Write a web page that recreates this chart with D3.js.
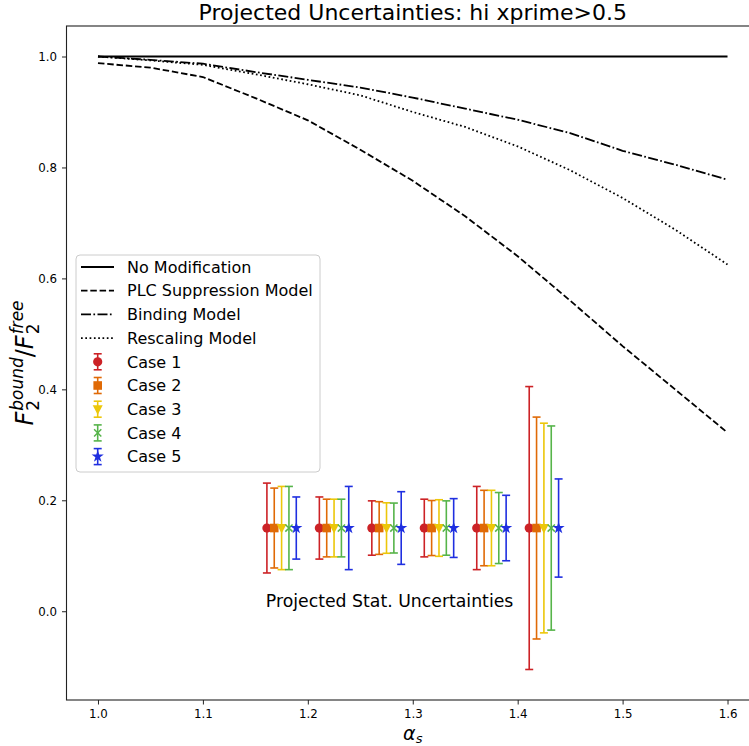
<!DOCTYPE html>
<html>
<head>
<meta charset="utf-8">
<script src="https://cdn.jsdelivr.net/npm/d3@7"></script>
<style>
  body { margin: 0; background: #fff; }
  text { font-family: "DejaVu Sans", sans-serif; fill: #000; }
</style>
</head>
<body>
<svg id="chart" width="749" height="746"></svg>
<script>
// Model curves vs alpha_s
const alphaS = [1.0, 1.05, 1.1, 1.15, 1.2, 1.25, 1.3, 1.35, 1.4, 1.45, 1.5, 1.55, 1.6];
const noModification = [1, 1, 1, 1, 1, 1, 1, 1, 1, 1, 1, 1, 1];
const plcSuppression = [0.988, 0.980, 0.963, 0.925, 0.885, 0.832, 0.776, 0.712, 0.640, 0.560, 0.478, 0.400, 0.322];
const bindingModel = [1.0, 0.994, 0.987, 0.972, 0.958, 0.944, 0.926, 0.906, 0.886, 0.862, 0.830, 0.805, 0.778];
const rescalingModel = [1.0, 0.993, 0.985, 0.968, 0.950, 0.930, 0.900, 0.873, 0.838, 0.795, 0.745, 0.688, 0.625];

const curveNames = ["No Modification", "PLC Suppression Model", "Binding Model", "Rescaling Model"];

// Projected statistical uncertainties, five cases per alpha_s bin
const binCenters = [1.175, 1.225, 1.275, 1.325, 1.375, 1.425];
const caseOffsets = [-0.014, -0.007, 0.0, 0.007, 0.014];
const centralValue = 0.15;
const case1Err = [0.081, 0.056, 0.049, 0.052, 0.075, 0.255];
const case2Err = [0.072, 0.052, 0.0475, 0.0496, 0.068, 0.200];
const case3Err = [0.075, 0.052, 0.0455, 0.051, 0.068, 0.189];
const case4Err = [0.075, 0.052, 0.045, 0.049, 0.064, 0.184];
const case5Err = [0.056, 0.075, 0.0655, 0.053, 0.059, 0.0885];
const caseNames = ["Case 1", "Case 2", "Case 3", "Case 4", "Case 5"];

const xTicks = [1.0, 1.1, 1.2, 1.3, 1.4, 1.5, 1.6];
const yTicks = [0.0, 0.2, 0.4, 0.6, 0.8, 1.0];

const titleText = "Projected Uncertainties: hi xprime>0.5";
const noteText = "Projected Stat. Uncertainties";

// ---- styling ----
const caseColors = ["#cc2226", "#e06a06", "#ecc70a", "#56b44a", "#1f2fe0"];
const caseMarkers = ["circle", "square", "triDown", "x", "star"];
const curveDash = [null, "6.5,2.8", "10,2.4,1.7,2.4", "1.7,2.6"];

const svg = d3.select("#chart");
const margin = { left: 66.5, right: 759, top: 26, bottom: 700 };

const x = d3.scaleLinear().domain([0.97, 1.63]).range([margin.left, margin.right]);
const y = d3.scaleLinear().domain([-0.16, 1.055]).range([margin.bottom, margin.top]);

// ---- axes ----
const xAxis = d3.axisBottom(x).tickValues(xTicks).tickFormat(d3.format(".1f")).tickSizeOuter(0).tickSize(4.5).tickPadding(5);
const yAxis = d3.axisLeft(y).tickValues(yTicks).tickFormat(d3.format(".1f")).tickSizeOuter(0).tickSize(4.5).tickPadding(5);

const gx = svg.append("g").attr("transform", `translate(0,${margin.bottom})`).call(xAxis);
const gy = svg.append("g").attr("transform", `translate(${margin.left},0)`).call(yAxis);
[gx, gy].forEach(g => {
  g.select(".domain").remove();
  g.selectAll(".tick line").attr("stroke", "#222").attr("stroke-width", 1);
  g.selectAll(".tick text").attr("font-size", 11.8).attr("font-family", "DejaVu Sans").attr("fill", "#222");
});

// spines
const spine = svg.append("g").attr("fill", "none").attr("stroke", "#222").attr("stroke-width", 1.1);
spine.append("rect")
  .attr("x", margin.left).attr("y", margin.top)
  .attr("width", margin.right - margin.left).attr("height", margin.bottom - margin.top);

// ---- model curves ----
const line = d3.line().x(d => x(d[0])).y(d => y(d[1]));
const curves = [noModification, plcSuppression, bindingModel, rescalingModel];
curves.forEach((vals, i) => {
  svg.append("path")
    .datum(alphaS.map((a, j) => [a, vals[j]]))
    .attr("d", line)
    .attr("fill", "none")
    .attr("stroke", "#000")
    .attr("stroke-width", 1.8)
    .attr("stroke-dasharray", curveDash[i]);
});

// ---- markers ----
function drawMarker(g, kind, cx, cy, color) {
  if (kind === "circle") {
    g.append("circle").attr("cx", cx).attr("cy", cy).attr("r", 4.6).attr("fill", color);
  } else if (kind === "square") {
    g.append("rect").attr("x", cx - 4.3).attr("y", cy - 4.3).attr("width", 8.6).attr("height", 8.6).attr("fill", color);
  } else if (kind === "triDown") {
    g.append("path").attr("d", `M${cx - 5},${cy - 4} L${cx + 5},${cy - 4} L${cx},${cy + 5.5} Z`).attr("fill", color);
  } else if (kind === "x") {
    g.append("path").attr("d", `M${cx - 3.6},${cy - 3.6} L${cx + 3.6},${cy + 3.6} M${cx - 3.6},${cy + 3.6} L${cx + 3.6},${cy - 3.6}`)
      .attr("stroke", color).attr("stroke-width", 1.5).attr("fill", "none");
  } else if (kind === "star") {
    g.append("path").attr("d", d3.symbol(d3.symbolStar, 46)()).attr("transform", `translate(${cx},${cy})`).attr("fill", color);
  }
}

function drawErrorBar(g, cx, yLo, yHi, cy, color, kind) {
  g.append("line").attr("x1", cx).attr("x2", cx).attr("y1", yLo).attr("y2", yHi)
    .attr("stroke", color).attr("stroke-width", 1.6);
  [yLo, yHi].forEach(yy => {
    g.append("line").attr("x1", cx - 4).attr("x2", cx + 4).attr("y1", yy).attr("y2", yy)
      .attr("stroke", color).attr("stroke-width", 1.6);
  });
  drawMarker(g, kind, cx, cy, color);
}

// ---- error bars ----
const caseErrs = [case1Err, case2Err, case3Err, case4Err, case5Err];
caseErrs.forEach((errs, c) => {
  const g = svg.append("g");
  binCenters.forEach((b, k) => {
    const xv = b + caseOffsets[c];
    drawErrorBar(g, x(xv), y(centralValue - errs[k]), y(centralValue + errs[k]), y(centralValue), caseColors[c], caseMarkers[c]);
  });
});

// ---- annotation ----
svg.append("text").attr("x", x(1.16)).attr("y", y(0.007))
  .attr("font-size", 17.3).text(noteText);

// ---- title ----
svg.append("text").attr("x", (margin.left + margin.right) / 2).attr("y", 20)
  .attr("text-anchor", "middle").attr("font-size", 22).text(titleText);

// ---- x label: alpha_s ----
const xl = svg.append("text").attr("x", (margin.left + margin.right) / 2).attr("y", 740)
  .attr("text-anchor", "middle");
xl.append("tspan").attr("font-size", 19).attr("font-style", "italic").text("α");
xl.append("tspan").attr("font-size", 13).attr("font-style", "italic").attr("dy", 3).text("s");

// ---- y label: F_2^bound / F_2^free ----
const yl = svg.append("g");
const main = 24, scr = 17;
let cursor = 0;
function piece(txt, size, italic, dy) {
  const t = yl.append("text").attr("x", cursor).attr("y", dy).attr("font-size", size)
    .attr("font-style", italic ? "italic" : "normal").text(txt);
  return t.node().getComputedTextLength();
}
function scripted(sup, sub) {
  const start = cursor;
  const w1 = piece(sup, scr, true, -10);
  cursor = start;
  const w2 = piece(sub, scr, false, 6);
  cursor = start + Math.max(w1, w2);
}
cursor += piece("F", main, true, 0) + 1;
scripted("bound", "2");
cursor += piece("/", main, false, 0);
cursor += piece("F", main, true, 0) + 1;
scripted("free", "2");
const totalW = cursor;
yl.attr("transform", `translate(33,${(margin.top + margin.bottom) / 2}) rotate(-90) translate(${-totalW / 2},0)`);

// ---- legend ----
const leg = svg.append("g");
leg.append("rect").attr("x", 76).attr("y", 255).attr("width", 244).attr("height", 217)
  .attr("rx", 4).attr("fill", "#fff").attr("fill-opacity", 0.8)
  .attr("stroke", "#cccccc").attr("stroke-width", 1);
const rowY = d3.range(9).map(i => 267 + i * 23.7);
curveNames.forEach((name, i) => {
  leg.append("line").attr("x1", 81).attr("x2", 114).attr("y1", rowY[i]).attr("y2", rowY[i])
    .attr("stroke", "#000").attr("stroke-width", 1.8).attr("stroke-dasharray", curveDash[i]);
  leg.append("text").attr("x", 127).attr("y", rowY[i]).attr("dy", "0.36em").attr("font-size", 16).text(name);
});
caseNames.forEach((name, c) => {
  const yy = rowY[4 + c];
  drawErrorBar(leg, 97.7, yy + 8, yy - 8, yy, caseColors[c], caseMarkers[c]);
  leg.append("text").attr("x", 127).attr("y", yy).attr("dy", "0.36em").attr("font-size", 16).text(name);
});
</script>
</body>
</html>
